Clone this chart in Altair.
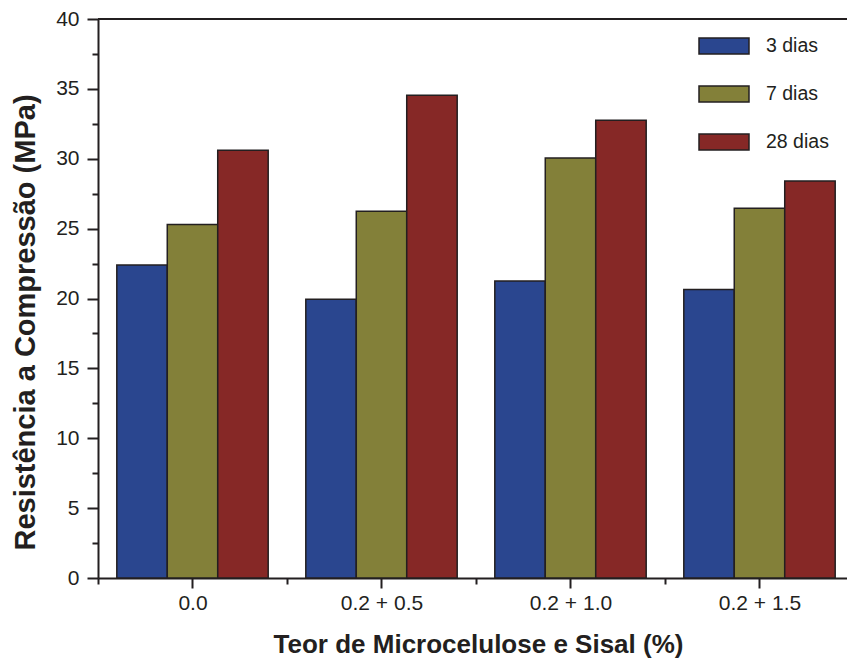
import json
import altair as alt
import pandas as pd

categories = ["0.0", "0.2 + 0.5", "0.2 + 1.0", "0.2 + 1.5"]
series = ["3 dias", "7 dias", "28 dias"]
dias3 = [22.4, 19.95, 21.25, 20.65]
dias7 = [25.3, 26.25, 30.05, 26.45]
dias28 = [30.6, 34.55, 32.75, 28.4]
colors = ["#2A468F", "#838039", "#862826"]
y_ticks = [0, 5, 10, 15, 20, 25, 30, 35, 40]
y_minor = [2.5, 7.5, 12.5, 17.5, 22.5, 27.5, 32.5, 37.5]

rows = []
for si, (s, vals) in enumerate(zip(series, [dias3, dias7, dias28])):
    for ci, (c, v) in enumerate(zip(categories, vals)):
        rows.append({"cat": c, "idx": ci, "serie": s, "sidx": si, "value": v})
df = pd.DataFrame(rows)

BW = 0.267
XDOM = [-0.5, 3.463]
INK = "#231F20"
FONT = "Liberation Sans"

xscale = alt.Scale(domain=XDOM, nice=False, zero=False)
yscale = alt.Scale(domain=[0, 40], nice=False)

label_expr = json.dumps(categories) + "[datum.value]"

base = alt.Chart(df).transform_calculate(
    x1=f"datum.idx + (datum.sidx - 1.5) * {BW}",
    x2=f"datum.idx + (datum.sidx - 0.5) * {BW}",
)

bars = base.mark_bar(stroke=INK, strokeWidth=1.5).encode(
    x=alt.X("x1:Q", scale=xscale,
            axis=alt.Axis(orient="bottom", values=[0, 1, 2, 3], labelExpr=label_expr,
                          title="Teor de Microcelulose e Sisal (%)",
                          tickSize=10, tickWidth=2, domainWidth=2,
                          domainColor=INK, tickColor=INK, labelColor=INK,
                          labelFontSize=21, labelPadding=4, labelFont=FONT,
                          titleFont=FONT, titleFontSize=26, titleFontWeight="bold",
                          titleColor=INK, titlePadding=18, titleX=380, grid=False,
                          labelFlush=False)),
    x2="x2:Q",
    y=alt.Y("value:Q", scale=yscale,
            axis=alt.Axis(orient="left", values=y_ticks, title="Resistência a Compressão (MPa)",
                          tickSize=11, tickWidth=2, domainWidth=2,
                          domainColor=INK, tickColor=INK, labelColor=INK,
                          labelFontSize=21, labelPadding=8, labelFont=FONT,
                          titleFont=FONT, titleFontSize=29, titleFontWeight="bold",
                          titleColor=INK, titlePadding=15, titleY=303, grid=False,
                          labelFlush=False)),
    y2=alt.datum(0),
    color=alt.Color("serie:N", scale=alt.Scale(domain=series, range=colors),
                    sort=series,
                    legend=alt.Legend(title=None, orient="none", legendX=600, legendY=1,
                                      symbolType="M-1,-0.32L1,-0.32L1,0.32L-1,0.32Z",
                                      symbolSize=2500, symbolStrokeColor=INK,
                                      symbolStrokeWidth=1.5, symbolOpacity=1,
                                      labelFontSize=19.5, labelFont=FONT, labelColor=INK,
                                      labelOffset=16, rowPadding=11, padding=0)),
)

toprule = alt.Chart(df).mark_rule(color=INK, strokeWidth=2).encode(
    y=alt.datum(40)
)

minor = base.mark_point(opacity=0).encode(
    x=alt.X("x1:Q", scale=xscale,
            axis=alt.Axis(orient="bottom", values=[-0.5, 0.5, 1.5, 2.5], labels=False,
                          domain=False, tickSize=6, tickWidth=2, tickColor=INK,
                          title=None, grid=False)),
    y=alt.Y("value:Q", scale=yscale,
            axis=alt.Axis(orient="left", values=y_minor, labels=False, domain=False,
                          tickSize=6, tickWidth=2, tickColor=INK, title=None, grid=False)),
)

chart = alt.layer(alt.layer(bars, toprule), minor).resolve_scale(
    x="independent", y="independent"
).properties(
    width=749, height=559,
    autosize=alt.AutoSizeParams(type="none"),
    padding={"left": 98, "top": 19, "right": 0, "bottom": 84},
).configure_view(stroke=None).configure(background="white")

chart.save("out.html", embed_options={"renderer": "svg", "actions": False})
